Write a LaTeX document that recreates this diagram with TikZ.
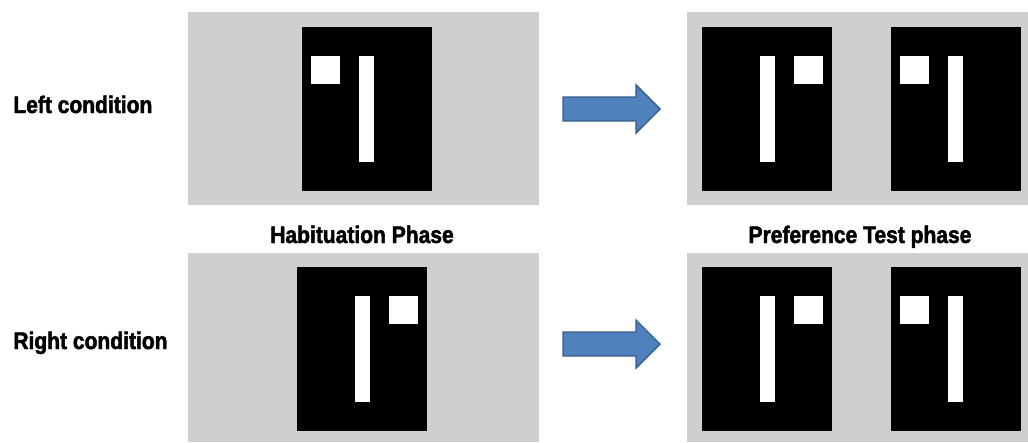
\documentclass[tikz,border=0pt]{standalone}
\usepackage{fontspec}
\setmainfont{Liberation Sans}
\newfontfamily\capfont[FakeStretch=0.88,FakeBold=2]{Liberation Sans Bold}
\definecolor{pgray}{RGB}{207,207,207}
\definecolor{ablue}{RGB}{79,129,189}
\definecolor{adark}{RGB}{56,93,138}
\tikzset{lbl/.style={font=\capfont\fontsize{13.6pt}{16pt}\selectfont, inner sep=0pt}}

\begin{document}
\begin{tikzpicture}[x=0.2mm,y=-0.2mm]
\def\cw{130}
\def\ch{164}

\useasboundingbox (0,0) rectangle (1028,442);

%Gray panels:
\fill[pgray] (188,12) rectangle (539,205);
\fill[pgray] (687,12) rectangle (1028,205);
\fill[pgray] (188,253) rectangle (539,442);
\fill[pgray] (687,253) rectangle (1028,442);

%cards, square on the left of the bar
\foreach \x/\y in {302/27, 891/27, 891/267}{
  \fill[black] (\x,\y) rectangle ++(\cw,\ch);
  \fill[white] (\x+9,\y+29) rectangle ++(29,28);
  \fill[white] (\x+57,\y+29) rectangle ++(15,106);
}
%cards, square on the right of the bar
\foreach \x/\y in {702/27, 297/267, 702/267}{
  \fill[black] (\x,\y) rectangle ++(\cw,\ch);
  \fill[white] (\x+58,\y+29) rectangle ++(15,106);
  \fill[white] (\x+92,\y+29) rectangle ++(29,28);
}

%block arrows
\foreach \y in {109,344}
  \draw[adark, fill=ablue, line width=0.8pt, line join=miter]
    (563,\y-12) -- (636,\y-12) -- (636,\y-24) -- (660,\y)
    -- (636,\y+24) -- (636,\y+12) -- (563,\y+12) -- cycle;

%labels
\node[lbl, anchor=base west] (leftcond) at (13,113) {Left condition};
\node[lbl, anchor=base west] (rightcond) at (13,349) {Right condition};
\node[lbl, anchor=base] (habit) at (362,243) {Habituation Phase};
\node[lbl, anchor=base] (pref) at (860,243) {Preference Test phase};

\end{tikzpicture}
\end{document}
